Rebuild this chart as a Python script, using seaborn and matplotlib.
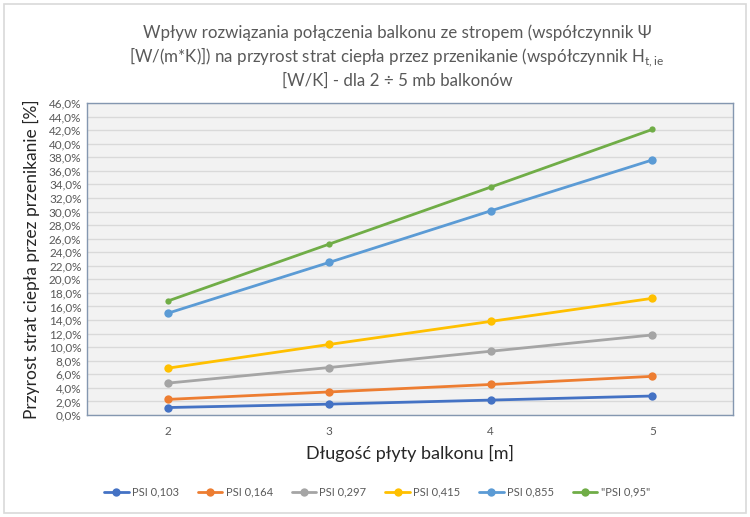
import matplotlib

matplotlib.use("Agg")

import matplotlib.pyplot as plt
import pandas as pd
import seaborn as sns
from matplotlib.patches import Rectangle
from matplotlib.ticker import FuncFormatter, MultipleLocator


sns.set_theme(style="white")
plt.rcParams["font.family"] = ["Lato", "DejaVu Sans"]

lengths = [2, 3, 4, 5]
series_names = ["PSI 0,103", "PSI 0,164", "PSI 0,297", "PSI 0,415", "PSI 0,855", '"PSI 0,95"']
psi_0103 = [1.1, 1.6, 2.2, 2.8]
psi_0164 = [2.3, 3.4, 4.5, 5.7]
psi_0297 = [4.7, 7.0, 9.4, 11.8]
psi_0415 = [6.9, 10.4, 13.8, 17.2]
psi_0855 = [15.0, 22.5, 30.1, 37.6]
psi_095 = [16.8, 25.2, 33.6, 42.1]
colors = ["#4472C4", "#ED7D31", "#A5A5A5", "#FFC000", "#5B9BD5", "#70AD47"]

values = [psi_0103, psi_0164, psi_0297, psi_0415, psi_0855, psi_095]
frame = pd.concat(
    [pd.DataFrame({"length": lengths, "value": v, "series": name}) for name, v in zip(series_names, values)],
    ignore_index=True,
)

fig = plt.figure(figsize=(7.5, 5.17), dpi=100)
fig.patch.set_facecolor("white")
fig.add_artist(Rectangle((4 / 750, 4 / 517), 742 / 750, 509 / 517, transform=fig.transFigure,
                         fill=False, edgecolor="#d9d9d9", linewidth=1.2))

ax = fig.add_axes([87 / 750, 102 / 517, 646 / 750, 312 / 517])
ax.set_facecolor("#f2f2f2")

sns.lineplot(data=frame, x="length", y="value", hue="series", hue_order=series_names,
             palette=colors, marker="o", markersize=6, markeredgewidth=0, linewidth=2, ax=ax)
# the last series uses smaller markers
ax.lines[5].set_markersize(4.5)

ax.set_xlim(1.5, 5.5)
ax.set_ylim(0, 46)
ax.set_xticks(lengths)
ax.yaxis.set_major_locator(MultipleLocator(2))
ax.yaxis.set_major_formatter(FuncFormatter(lambda v, _: f"{v:.1f}%".replace(".", ",")))
ax.grid(axis="y", color="#d9d9d9", linewidth=1)
ax.set_axisbelow(True)
for spine in ax.spines.values():
    spine.set_color("#8497b0")
    spine.set_linewidth(1)
ax.tick_params(axis="both", length=0, labelsize=8.5, labelcolor="#595959")
ax.tick_params(axis="x", pad=8)
ax.tick_params(axis="y", pad=4)

ax.set_xlabel("Długość płyty balkonu [m]", fontsize=13, color="#262626", labelpad=6)
ax.set_ylabel("Przyrost strat ciepła przez przenikanie [%]", fontsize=12.5, color="#262626", labelpad=6)

title_kw = dict(ha="center", va="center", fontsize=12.2, color="#595959")
fig.text(397 / 750, 1 - 33 / 517, "Wpływ rozwiązania połączenia balkonu ze stropem (współczynnik Ψ", **title_kw)
fig.text(397 / 750, 1 - 57 / 517,
         r"[W/(m*K)]) na przyrost strat ciepła przez przenikanie (współczynnik H$_\mathregular{t,ie}$",
         **title_kw)
fig.text(397 / 750, 1 - 81 / 517, "[W/K] - dla 2 ÷ 5 mb balkonów", **title_kw)

handles, labels = ax.get_legend_handles_labels()
ax.legend(handles, labels, loc="center", bbox_to_anchor=(377 / 750, 1 - 492 / 517),
          bbox_transform=fig.transFigure, ncol=6, frameon=False, fontsize=8,
          handlelength=2.2, handletextpad=0.3, columnspacing=1.7, labelcolor="#595959")

fig.savefig("out.png", dpi=100)
